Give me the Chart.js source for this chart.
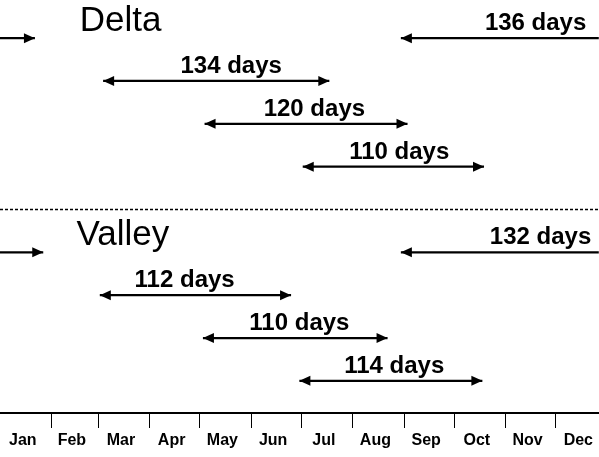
<!DOCTYPE html>
<html>
<head>
<meta charset="utf-8">
<script src="https://cdn.jsdelivr.net/npm/chart.js@4/dist/chart.umd.min.js"></script>
<style>
  html, body { margin: 0; padding: 0; background: #fff; }
  #wrap { width: 599px; height: 457px; }
</style>
</head>
<body>
<div id="wrap"><canvas id="chart"></canvas></div>
<script>
const months = ['Jan', 'Feb', 'Mar', 'Apr', 'May', 'Jun', 'Jul', 'Aug', 'Sep', 'Oct', 'Nov', 'Dec'];
const monthDays = [31, 28, 31, 30, 31, 30, 31, 31, 30, 31, 30, 31];

// day of year
const seasonLabels = ['136 days', '134 days', '120 days', '110 days', '132 days', '112 days', '110 days', '114 days'];
const seasonRows = [1, 2, 3, 4, 6, 7, 8, 9];
const startDay = [241, 62, 123, 182, 241, 60, 122, 180];
const endDay = [21, 198, 245, 291, 26, 175, 233, 290];
const labelDay = [322, 139, 189, 240, 325, 111, 180, 237];

const groups = ['Delta', 'Valley'];
const groupRows = [1, 6];
const groupDay = [48, 46];
const separatorRow = 5;

const FONT = "'Liberation Sans', Arial, sans-serif";

// month boundaries and middles for the axis
const boundaries = [];
const middles = [];
let acc = 0;
monthDays.forEach((d, i) => {
    middles.push(acc + d / 2);
    acc += d;
    if (i < 11) boundaries.push(acc);
});

// build line datasets, splitting seasons that wrap over new year
const datasets = [];
seasonLabels.forEach((lab, i) => {
    const y = seasonRows[i];
    if (endDay[i] < startDay[i]) {
        datasets.push({ data: [{ x: startDay[i], y }, { x: 365, y }], heads: ['start'] });
        datasets.push({ data: [{ x: 0, y }, { x: endDay[i], y }], heads: ['end'] });
    } else {
        datasets.push({ data: [{ x: startDay[i], y }, { x: endDay[i], y }], heads: ['start', 'end'] });
    }
});
datasets.forEach(ds => {
    ds.borderColor = '#000';
    ds.borderWidth = 2.2;
    ds.pointRadius = 0;
});
datasets.push({
    data: [{ x: 0, y: separatorRow }, { x: 365, y: separatorRow }],
    borderColor: '#000',
    borderWidth: 1.5,
    borderDash: [3, 2],
    pointRadius: 0,
    heads: [],
});

const arrowPlugin = {
    id: 'arrows',
    afterDatasetsDraw(chart) {
        const ctx = chart.ctx;
        const xs = chart.scales.x;
        const ys = chart.scales.y;
        ctx.save();
        ctx.beginPath();
        ctx.rect(chart.chartArea.left, chart.chartArea.top, chart.chartArea.width, chart.chartArea.height);
        ctx.clip();
        ctx.fillStyle = '#000';
        chart.data.datasets.forEach(ds => {
            const [a, b] = ds.data;
            const y = ys.getPixelForValue(a.y);
            ds.heads.forEach(h => {
                const tip = xs.getPixelForValue(h === 'start' ? a.x : b.x);
                const dir = h === 'start' ? 1 : -1;
                ctx.beginPath();
                ctx.moveTo(tip, y);
                ctx.lineTo(tip + dir * 11, y - 5);
                ctx.lineTo(tip + dir * 11, y + 5);
                ctx.closePath();
                ctx.fill();
            });
        });
        ctx.restore();

        ctx.save();
        ctx.fillStyle = '#000';
        ctx.textBaseline = 'alphabetic';
        ctx.textAlign = 'center';
        ctx.font = 'bold 24px ' + FONT;
        seasonLabels.forEach((lab, i) => {
            ctx.fillText(lab, xs.getPixelForValue(labelDay[i]), ys.getPixelForValue(seasonRows[i]) - 8);
        });
        ctx.textAlign = 'left';
        ctx.font = '35px ' + FONT;
        groups.forEach((g, i) => {
            ctx.fillText(g, xs.getPixelForValue(groupDay[i]), ys.getPixelForValue(groupRows[i]) - 7);
        });
        ctx.restore();
    }
};

new Chart(document.getElementById('chart'), {
    type: 'line',
    data: { datasets },
    options: {
        responsive: true,
        maintainAspectRatio: false,
        animation: false,
        layout: { padding: 0 },
        plugins: { legend: { display: false }, tooltip: { enabled: false } },
        scales: {
            x: {
                type: 'linear',
                min: 0,
                max: 360,
                afterBuildTicks(scale) {
                    scale.ticks = boundaries.concat(middles).sort((p, q) => p - q).map(v => ({ value: v }));
                },
                afterFit(scale) { scale.height = 44; },
                border: { display: true, color: '#000', width: 2 },
                grid: {
                    drawOnChartArea: false,
                    drawTicks: true,
                    tickLength: 15,
                    lineWidth: 1,
                    color: c => (c.tick && boundaries.includes(c.tick.value)) ? '#000' : 'rgba(0,0,0,0)',
                },
                ticks: {
                    autoSkip: false,
                    maxRotation: 0,
                    padding: 3,
                    labelOffset: -3,
                    color: '#000',
                    font: { family: FONT, size: 16, weight: 'bold' },
                    callback: v => {
                        const i = middles.indexOf(v);
                        return i >= 0 ? months[i] : '';
                    },
                },
            },
            y: {
                type: 'linear',
                display: false,
                reverse: true,
                min: 0.11,
                max: 9.75,
            },
        },
    },
    plugins: [arrowPlugin],
});
</script>
</body>
</html>
